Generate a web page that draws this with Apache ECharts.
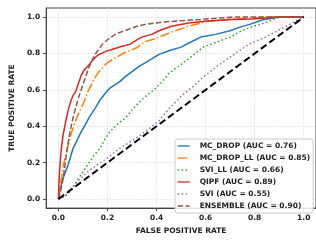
<!DOCTYPE html>
<html>
<head>
<meta charset="utf-8">
<script src="https://cdn.jsdelivr.net/npm/echarts@6/dist/echarts.min.js"></script>
<style>
html, body {margin: 0; padding: 0; background: #fff;}
#main {width: 316px; height: 240px;}
</style>
</head>
<body>
<div id="main"></div>
<script>
// tick values on both axes
let ticks = [0, 0.2, 0.4, 0.6, 0.8, 1.0];

// ROC curves, [fpr, tpr]
let mcDrop = [[0, 0], [0.005, 0.04], [0.015, 0.10], [0.04, 0.19], [0.06, 0.28], [0.075, 0.32], [0.093, 0.37], [0.11, 0.41], [0.126, 0.45], [0.15, 0.50], [0.17, 0.545], [0.19, 0.58], [0.21, 0.61], [0.25, 0.645], [0.27, 0.67], [0.30, 0.70], [0.33, 0.73], [0.355, 0.75], [0.38, 0.77], [0.41, 0.795], [0.45, 0.815], [0.5, 0.835], [0.53, 0.856], [0.58, 0.89], [0.64, 0.905], [0.70, 0.925], [0.74, 0.945], [0.78, 0.96], [0.83, 0.984], [0.9, 1.0], [1, 1]];
let mcDropLL = [[0, 0], [0.008, 0.08], [0.021, 0.19], [0.035, 0.27], [0.054, 0.37], [0.07, 0.43], [0.085, 0.48], [0.1, 0.52], [0.106, 0.54], [0.12, 0.59], [0.135, 0.63], [0.145, 0.66], [0.165, 0.70], [0.185, 0.73], [0.2, 0.75], [0.224, 0.77], [0.263, 0.80], [0.29, 0.815], [0.316, 0.83], [0.355, 0.865], [0.38, 0.875], [0.41, 0.89], [0.46, 0.917], [0.53, 0.95], [0.61, 0.978], [0.71, 0.99], [0.85, 1.0], [1, 1]];
let sviLL = [[0, 0], [0.02, 0.01], [0.04, 0.03], [0.06, 0.07], [0.09, 0.13], [0.12, 0.19], [0.145, 0.24], [0.17, 0.28], [0.19, 0.33], [0.21, 0.37], [0.24, 0.41], [0.276, 0.45], [0.30, 0.49], [0.335, 0.54], [0.36, 0.57], [0.38, 0.59], [0.42, 0.64], [0.45, 0.69], [0.49, 0.73], [0.53, 0.77], [0.59, 0.835], [0.65, 0.865], [0.70, 0.89], [0.74, 0.92], [0.78, 0.943], [0.845, 0.97], [0.9, 1.0], [1, 1]];
let qipf = [[0, 0], [0.003, 0.12], [0.008, 0.22], [0.012, 0.28], [0.02, 0.36], [0.03, 0.43], [0.04, 0.49], [0.051, 0.54], [0.06, 0.57], [0.07, 0.59], [0.08, 0.63], [0.093, 0.68], [0.105, 0.71], [0.12, 0.73], [0.14, 0.765], [0.16, 0.79], [0.19, 0.81], [0.224, 0.825], [0.26, 0.84], [0.29, 0.85], [0.32, 0.875], [0.34, 0.89], [0.38, 0.905], [0.41, 0.925], [0.46, 0.95], [0.53, 0.968], [0.6, 0.977], [0.71, 0.987], [0.79, 0.99], [0.845, 0.995], [0.9, 1.0], [1, 1]];
let svi = [[0, 0], [0.015, 0.01], [0.027, 0.014], [0.05, 0.05], [0.08, 0.10], [0.12, 0.15], [0.16, 0.19], [0.2, 0.225], [0.25, 0.28], [0.3, 0.32], [0.355, 0.37], [0.41, 0.43], [0.45, 0.495], [0.504, 0.57], [0.55, 0.62], [0.59, 0.67], [0.65, 0.733], [0.7, 0.78], [0.753, 0.83], [0.79, 0.86], [0.845, 0.89], [0.9, 0.93], [0.936, 0.955], [0.97, 0.98], [1, 1]];
let ensemble = [[0, 0], [0.01, 0.05], [0.02, 0.12], [0.027, 0.19], [0.035, 0.27], [0.047, 0.37], [0.06, 0.45], [0.07, 0.5], [0.08, 0.55], [0.09, 0.59], [0.10, 0.63], [0.113, 0.68], [0.126, 0.73], [0.14, 0.77], [0.152, 0.80], [0.17, 0.835], [0.185, 0.86], [0.21, 0.885], [0.237, 0.91], [0.26, 0.92], [0.29, 0.935], [0.32, 0.95], [0.354, 0.96], [0.43, 0.973], [0.5, 0.98], [0.58, 0.987], [0.71, 1.0], [1, 1]];
let chance = [[0, 0], [1, 1]];

let names = ['MC_DROP (AUC = 0.76)', 'MC_DROP_LL (AUC = 0.85)', 'SVI_LL (AUC = 0.66)', 'QIPF (AUC = 0.89)', 'SVI (AUC = 0.55)', 'ENSEMBLE (AUC = 0.90)'];
let curves = [mcDrop, mcDropLL, sviLL, qipf, svi, ensemble];
let colors = ['#1f77b4', '#ff7f0e', '#2ca02c', '#d62728', '#9467bd', '#8c564b'];
let dashes = ['solid', [9.6, 2.4, 1.5, 2.4], [1.5, 2.5], 'solid', [1.5, 2.5], [5.5, 2.4]];

let font = 'DejaVu Sans';
let txt = {fontFamily: font, fontWeight: 'bold', fontSize: 7.5, color: '#222'};

function axis(name, gap) {
    return {
        type: 'value',
        min: -0.05,
        max: 1.05,
        name: name,
        nameLocation: 'middle',
        nameGap: gap,
        nameTextStyle: txt,
        axisLine: {show: true, onZero: false, lineStyle: {color: '#444', width: 1}},
        axisTick: {show: true, length: 3, customValues: ticks, lineStyle: {color: '#444'}},
        axisLabel: Object.assign({margin: 6, customValues: ticks, formatter: v => v.toFixed(1)}, txt),
        splitLine: {show: true, lineStyle: {color: '#d8d8d8', type: [1.5, 1.5], width: 0.8}}
    };
}

let series = curves.map((d, i) => ({
    name: names[i],
    type: 'line',
    data: d,
    showSymbol: false,
    symbol: 'none',
    color: colors[i],
    lineStyle: {width: 1.5, type: dashes[i]}
}));
series.push({
    type: 'line',
    data: chance,
    showSymbol: false,
    symbol: 'none',
    color: '#000',
    lineStyle: {width: 2, type: [7, 3.5]}
});

echarts.init(document.getElementById('main')).setOption({
    animation: false,
    grid: {left: 42, right: -6, top: 8, bottom: 23, show: true, borderColor: '#444', borderWidth: 1},
    xAxis: axis('FALSE POSITIVE RATE', 15),
    yAxis: axis('TRUE POSITIVE RATE', 23),
    legend: {
        orient: 'vertical',
        left: 175,
        top: 139,
        padding: [2, 3, 2, 2],
        itemWidth: 12,
        itemHeight: 8,
        itemGap: 2,
        itemStyle: {opacity: 0},
        lineStyle: {width: 1.3},
        backgroundColor: 'rgba(255,255,255,0.85)',
        borderColor: '#ccc',
        borderWidth: 1,
        borderRadius: 3,
        textStyle: Object.assign({lineHeight: 10, padding: [0, 0, 0, 5]}, txt),
        data: names
    },
    series: series
});
</script>
</body>
</html>
